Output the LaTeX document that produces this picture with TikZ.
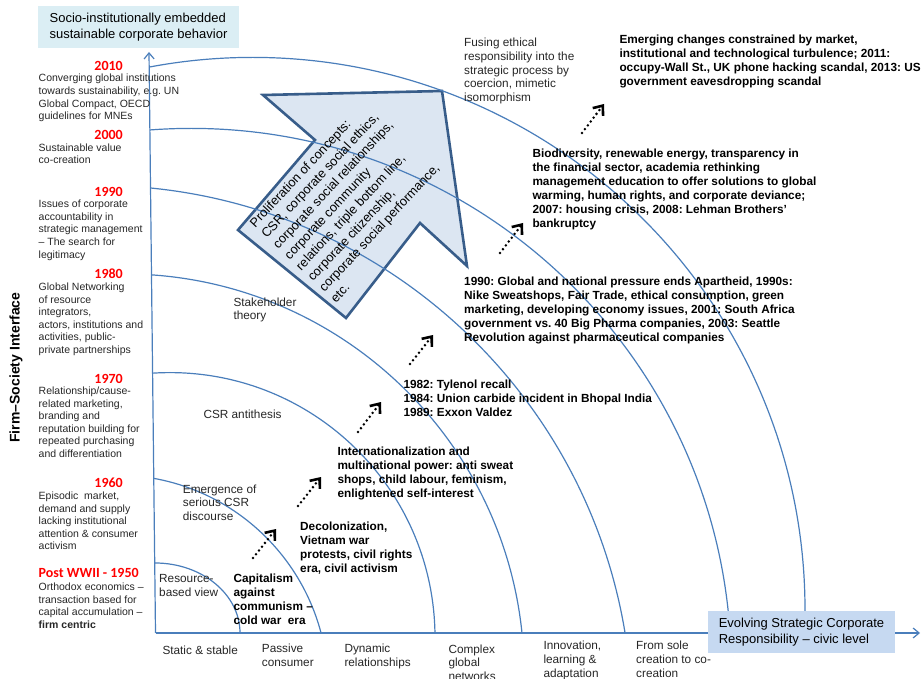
\documentclass[tikz,border=0pt]{standalone}
\usepackage{fontspec}
\setmainfont{Liberation Sans}
\newfontfamily\yearfont{Carlito}
\usetikzlibrary{arrows.meta}
\frenchspacing
\definecolor{axisblue}{HTML}{4A7EBB}
\definecolor{arrowfill}{HTML}{DCE6F2}
\definecolor{arrowline}{HTML}{385D8A}
\definecolor{topfill}{HTML}{DBEEF4}
\definecolor{botfill}{HTML}{C6D9F1}
\definecolor{yearred}{HTML}{FF0000}
\tikzset{
  era/.style={anchor=north west, inner sep=0pt, align=left, text=black!85, font=\fontsize{10.5}{12.6}\selectfont},
  year/.style={anchor=base east, inner sep=0pt, text=yearred, font=\yearfont\bfseries\fontsize{14}{16}\selectfont},
  phase/.style={anchor=north west, inner sep=0pt, align=left, text=black!85, font=\fontsize{11.8}{13.8}\selectfont},
  event/.style={anchor=north west, inner sep=0pt, align=left, font=\bfseries\fontsize{11.8}{14}\selectfont},
  levelbox/.style={inner sep=0pt, align=left, minimum height=42pt, font=\fontsize{13}{15.8}\selectfont},
  ringline/.style={axisblue, line width=1.2pt},
  axisline/.style={axisblue, line width=1.2pt, -{Straight Barb[length=6pt,width=10pt]}},
  blockarrow/.style={fill=arrowfill, draw=arrowline, line width=2.6pt, line join=miter},
  dotarrow/.style={line width=2.8pt, dash pattern=on 0pt off 4.8pt, line cap=round,
    -{Straight Barb[length=8pt,width=13pt,line width=2.6pt]}}
}

\begin{document}
\frenchspacing
\begin{tikzpicture}[x=1pt,y=1pt]
  \useasboundingbox (0,0) rectangle (922,-679);
  % big block arrow
  \draw[blockarrow] (442,-91) -- (467,-266) -- (420,-223) -- (346,-318) -- (238,-230) -- (315,-140) -- (263,-95) -- cycle;
  % rings
  \begin{scope}
    \clip (155.5,-633) -- (149,-40) -- (922,-40) -- (922,-633) -- cycle;
    \draw[ringline] (155,-633) ellipse [x radius=85, y radius=70];
    \foreach \cx/\cy/\r in {116/-687/212, 170/-637.6/265, 123.7/-674.3/400.4, 97.5/-720/534.6, 191.3/-668.3/539.9, 252.7/-609.7/552.3}
      \draw[ringline] (\cx,\cy) circle (\r);
  \end{scope}
  % axes
  \coordinate (origin) at (155.5,-633);
  \coordinate (ytip) at (149,-52);
  \coordinate (xtip) at (920,-633);
  \draw[axisline] (origin) -- (ytip);
  \draw[axisline] (origin) -- (xtip);
  \node[levelbox, fill=topfill, minimum width=201pt] (toplevel) at (138.5,-27) {Socio-institutionally embedded\\sustainable corporate behavior};
  \node[levelbox, fill=botfill, minimum width=187pt] (civic) at (801.5,-632) {Evolving Strategic Corporate\\Responsibility – civic level};
  \node[rotate=90, inner sep=0pt, font=\bfseries\fontsize{14}{16}\selectfont] (interface) at (16,-367.5) {Firm–Society Interface};

  % left column
  \node[year] (y2010) at (123,-70.5) {2010};
  \node[era] (c2010) at (38.5,-74) {Converging global institutions\\towards sustainability, e.g. UN\\Global Compact, OECD\\guidelines for MNEs};
  \node[year] (y2000) at (123,-139.3) {2000};
  \node[era] (c2000) at (38.5,-143.3) {Sustainable value\\co-creation};
  \node[year] (y1990) at (123,-196.7) {1990};
  \node[era] (c1990) at (38.5,-200) {Issues of corporate\\accountability in\\strategic management\\– The search for\\legitimacy};
  \node[year] (y1980) at (123,-278.3) {1980};
  \node[era] (c1980) at (38.5,-282.7) {Global Networking\\of resource\\integrators,\\actors, institutions and\\activities, public-\\private partnerships};
  \node[year] (y1970) at (123,-383.3) {1970};
  \node[era] (c1970) at (38.5,-386.7) {Relationship/cause-\\related marketing,\\branding and\\reputation building for\\repeated purchasing\\and differentiation};
  \node[year] (y1960) at (123,-487.3) {1960};
  \node[era] (c1960) at (38.5,-491.7) {Episodic \ market,\\demand and supply\\lacking institutional\\attention \& consumer\\activism};
  \node[year, anchor=base west] (y1950) at (38.5,-577.3) {Post WWII - 1950};
  \node[era] (c1950) at (38.5,-582.7) {Orthodox economics –\\transaction based for\\capital accumulation –\\\textbf{firm centric}};

  % theories inside the rings
  \node[phase] (resource) at (159,-574) {Resource-\\based view};
  \node[phase] (emergence) at (182.7,-484.3) {Emergence of\\serious CSR\\discourse};
  \node[phase] (antithesis) at (203.3,-409.3) {CSR antithesis};
  \node[phase] (stakeholder) at (233.3,-297.3) {Stakeholder\\theory};
  \node[phase] (fusing) at (464,-37.7) {Fusing ethical\\responsibility into the\\strategic process by\\coercion, mimetic\\isomorphism};
  \node[anchor=north west, rotate=47, inner sep=0pt, align=left, font=\fontsize{12.8}{15.8}\selectfont] (concepts) at (248.2,-221.7)
    {Proliferation of concepts:\\CSR, corporate social ethics,\\corporate social relationships,\\corporate community\\relations, triple bottom line,\\corporate citizenship,\\corporate social performance,\\etc.};

  % events
  \node[event] (capitalism) at (233.3,-574) {Capitalism\\against\\communism –\\cold war \ era};
  \node[event] (decolon) at (300,-522) {Decolonization,\\Vietnam war\\protests, civil rights\\era, civil activism};
  \node[event] (internat) at (337.3,-446.7) {Internationalization and\\multinational power: anti sweat\\shops, child labour, feminism,\\enlightened self-interest};
  \node[event] (tylenol) at (403.3,-379.3) {1982: Tylenol recall\\1984: Union carbide incident in Bhopal India\\1989: Exxon Valdez};
  \node[event] (apartheid) at (464,-276.7) {1990: Global and national pressure ends Apartheid, 1990s:\\Nike Sweatshops, Fair Trade, ethical consumption, green\\marketing, developing economy issues, 2001: South Africa\\government vs. 40 Big Pharma companies, 2003: Seattle\\Revolution against pharmaceutical companies};
  \node[event] (biodiv) at (532.3,-149) {Biodiversity, renewable energy, transparency in\\the financial sector, academia rethinking\\management education to offer solutions to global\\warming, human rights, and corporate deviance;\\2007: housing crisis, 2008: Lehman Brothers’\\bankruptcy};
  \node[event] (emerging) at (619.3,-35) {Emerging changes constrained by market,\\institutional and technological turbulence; 2011:\\occupy-Wall St., UK phone hacking scandal, 2013: US\\government eavesdropping scandal};

  % x axis labels
  \node[phase] (static) at (162.3,-646) {Static \& stable};
  \node[phase] (passive) at (261.7,-644) {Passive\\consumer};
  \node[phase] (dynamic) at (344.3,-644) {Dynamic\\relationships};
  \node[phase] (complex) at (448.3,-644.3) {Complex\\global\\networks};
  \node[phase] (innov) at (543.3,-641) {Innovation,\\learning \&\\adaptation};
  \node[phase] (fromsole) at (636,-641) {From sole\\creation to co-\\creation};

  % dotted arrows between eras
  \foreach \tx/\ty/\hx/\hy [count=\i] in {253/-558/276/-529, 298/-506/321/-477, 358/-432/381/-402, 410/-364/433/-335, 500/-253/523/-223, 582/-133/604/-104}{
    \coordinate (tail\i) at (\tx,\ty);
    \coordinate (head\i) at (\hx,\hy);
    \draw[dotarrow] (tail\i) -- (head\i);
  }
\end{tikzpicture}
\end{document}
